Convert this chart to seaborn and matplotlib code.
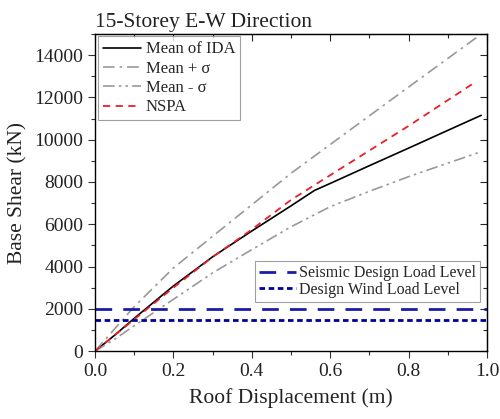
import matplotlib
matplotlib.use("Agg")
import matplotlib.pyplot as plt
from matplotlib.ticker import MultipleLocator
import pandas as pd
import seaborn as sns

# Mean of IDA curve
ida_disp = [0, 0.05, 0.1, 0.2, 0.3, 0.4, 0.5, 0.56, 0.6, 0.7, 0.8, 0.9, 0.985]
ida_shear = [0, 750, 1550, 3080, 4460, 5680, 6870, 7600, 7930, 8770, 9600, 10440, 11150]

# Mean + sigma / Mean - sigma
sig_disp = [0, 0.05, 0.1, 0.2, 0.3, 0.4, 0.5, 0.6, 0.7, 0.8, 0.9, 0.985]
plus_shear = [0, 1050, 2100, 3930, 5430, 6920, 8410, 9770, 11130, 12490, 13840, 14990]
minus_shear = [0, 560, 1200, 2450, 3700, 4800, 5880, 6830, 7560, 8250, 8890, 9430]

# NSPA pushover
nspa_disp = [0, 0.1, 0.2, 0.3, 0.4, 0.5, 0.6, 0.8, 0.965]
nspa_shear = [0, 1500, 3000, 4450, 5750, 7150, 8320, 10650, 12660]

seismic_level = 2000
wind_level = 1450

sns.set_style("ticks")
plt.rcParams["font.family"] = ["Liberation Serif", "DejaVu Serif"]
plt.rcParams["mathtext.fontset"] = "stix"

fig = plt.figure(figsize=(5, 4.19), dpi=100)
ax = fig.add_axes([0.19, 0.162, 0.784, 0.757])

sns.lineplot(x=ida_disp, y=ida_shear, ax=ax, color="black", linewidth=1.2,
             label="Mean of IDA", sort=False)
sns.lineplot(x=sig_disp, y=plus_shear, ax=ax, color="#999999", linewidth=1.2,
             linestyle=(0, (7, 3, 1.5, 3)), label="Mean + σ", sort=False)
sns.lineplot(x=sig_disp, y=minus_shear, ax=ax, color="#999999", linewidth=1.2,
             linestyle=(0, (7, 2.5, 1.5, 2.5, 1.5, 2.5)), label="Mean - σ", sort=False)
sns.lineplot(x=nspa_disp, y=nspa_shear, ax=ax, color="#e8202a", linewidth=1.3,
             linestyle=(0, (4, 3)), label="NSPA", sort=False)
ax.axhline(seismic_level, color="#1c1ca8", linewidth=2, linestyle=(0, (6, 4)),
           label="Seismic Design Load Level")
ax.axhline(wind_level, color="#00009a", linewidth=2, linestyle=(0, (2, 1.3)),
           label="Design Wind Load Level")

ax.set_xlim(0, 1.0)
ax.set_ylim(0, 15000)
ax.xaxis.set_minor_locator(MultipleLocator(0.1))
ax.yaxis.set_minor_locator(MultipleLocator(1000))
ax.set_xticks([0, 0.2, 0.4, 0.6, 0.8, 1.0])
ax.set_xticklabels(["0.0", "0.2", "0.4", "0.6", "0.8", "1.0"])
ax.set_yticks(range(0, 15000, 2000))

ax.tick_params(which="both", direction="out", labelsize=14, width=0.8, colors="#333333",
               labelcolor="#222222")
ax.tick_params(which="major", length=5)
ax.tick_params(which="minor", length=3)
# top/right inward ticks without labels
secx = ax.secondary_xaxis("top")
secx.set_xticks([0, 0.2, 0.4, 0.6, 0.8, 1.0])
secx.xaxis.set_minor_locator(MultipleLocator(0.1))
secx.tick_params(which="both", direction="in", labeltop=False, width=0.8)
secx.tick_params(which="major", length=5)
secx.tick_params(which="minor", length=3)
secy = ax.secondary_yaxis("right")
secy.set_yticks(range(0, 15000, 2000))
secy.yaxis.set_minor_locator(MultipleLocator(1000))
secy.tick_params(which="both", direction="in", labelright=False, width=0.8)
secy.tick_params(which="major", length=5)
secy.tick_params(which="minor", length=3)
for s in ax.spines.values():
    s.set_color("black")
    s.set_linewidth(1.0)

ax.set_xlabel("Roof Displacement (m)", fontsize=15.5, color="#222222", labelpad=6)
ax.set_ylabel("Base Shear (kN)", fontsize=15.5, color="#222222", labelpad=5)
ax.set_title("15-Storey E-W Direction", loc="left", fontsize=15.5, color="#222222", pad=5)

handles, labels = ax.get_legend_handles_labels()
leg1 = ax.legend(handles[:4], labels[:4], loc="upper left", fontsize=12,
                 frameon=True, fancybox=False, edgecolor="#888888", handlelength=2.3,
                 borderaxespad=0.15, labelspacing=0.2, handletextpad=0.3,
                 borderpad=0.3)
leg1.get_frame().set_linewidth(0.8)
ax.add_artist(leg1)
leg2 = ax.legend(handles[4:], labels[4:], loc="lower right", fontsize=11.5,
                 bbox_to_anchor=(0.982, 0.155), borderaxespad=0, frameon=True,
                 fancybox=False, edgecolor="#888888", handlelength=2.3,
                 labelspacing=0.05, handletextpad=0.2, borderpad=0.25)
leg2.get_frame().set_linewidth(0.8)

fig.savefig("out.png", dpi=100)
